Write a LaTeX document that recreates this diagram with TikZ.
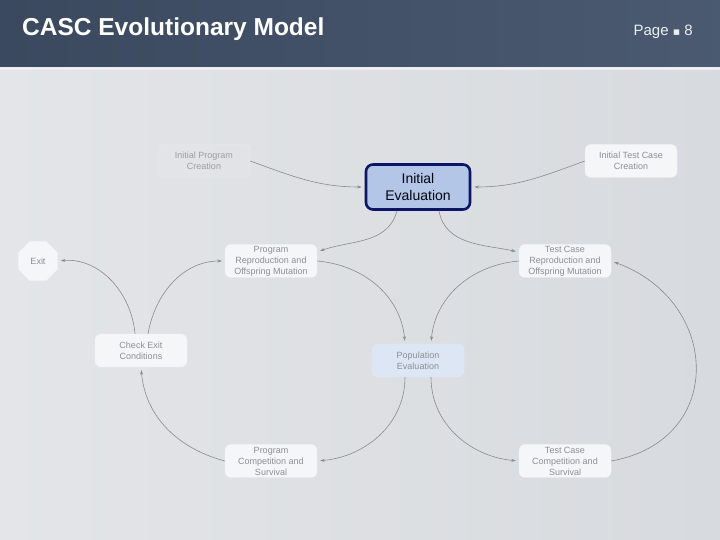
\documentclass[tikz,border=0pt]{standalone}
\usepackage{fontspec}
\setmainfont{Liberation Sans}
\newfontfamily\symfont{DejaVu Sans}
\usepackage{tikz}
\usetikzlibrary{shapes.geometric,arrows.meta}
\usepackage{xcolor}
\definecolor{headbg}{HTML}{415169}
\definecolor{bodybg}{HTML}{D7DADE}
\definecolor{boxtxt}{HTML}{8C8F94}
\definecolor{flowline}{HTML}{878A8F}
\definecolor{evalfill}{HTML}{B3C6E7}
\definecolor{evaldraw}{HTML}{0C1466}
\definecolor{popfill}{HTML}{DDE6F4}

\begin{document}
\begin{tikzpicture}[x=1pt,y=1pt,
        stage/.style={rectangle, rounded corners=6pt, draw=white!60!bodybg, fill=white!75!bodybg,
            text=boxtxt, align=center, inner sep=0pt, minimum width=92pt, minimum height=33pt,
            font=\fontsize{9}{11}\selectfont},
        faint/.style={stage, draw=white!45!bodybg, fill=white, fill opacity=0.08, text opacity=1, text=black!28!bodybg},
        flow/.style={->, >={Stealth[length=4.5pt,width=3pt]}, draw=flowline, line width=0.6pt, shorten >=3pt},
        ]
        % background and title bar
        \useasboundingbox (0,0) rectangle (720,540);
        \shade[left color=white!30!bodybg, right color=bodybg] (0,0) rectangle (720,470);
        \fill[white!55!bodybg] (0,470) rectangle (720,473);
        \shade[left color=headbg!90!black, right color=headbg!95!white] (0,473) rectangle (720,540);
        \node (title) at (22,510.5) [anchor=west, inner sep=0pt, text=white, font=\fontsize{24.5}{28}\selectfont\bfseries] {CASC Evolutionary Model};
        \node (page) at (693,508) [anchor=east, inner sep=0pt, text=white!90!headbg, font=\fontsize{15}{18}\selectfont] {Page {\symfont\fontsize{11}{11}\selectfont ▪} 8};

        \node (progInit) at (204,379) [faint] {Initial Program\\Creation};
        \node (testInit) at (631,379) [stage] {Initial Test Case\\Creation};
        \node (initEval) at (418,353) [rectangle, rounded corners=7pt, draw=evaldraw, line width=2.6pt,
            fill=evalfill, text=black!85!evaldraw, align=center, minimum width=104pt, minimum height=45pt,
            inner sep=0pt, font=\fontsize{14}{17}\selectfont] {Initial\\Evaluation};

        \node (exit) at (38,279) [regular polygon, regular polygon sides=8, minimum size=42.5pt, inner sep=0pt,
            draw=white!60!bodybg, fill=white!75!bodybg, text=boxtxt, font=\fontsize{9}{11}\selectfont] {Exit};
        \node (progRepro) at (271,279) [stage] {Program\\Reproduction and\\Offspring Mutation};
        \node (testRepro) at (565,279) [stage] {Test Case\\Reproduction and\\Offspring Mutation};
        \node (check) at (141,189.5) [stage] {Check Exit\\Conditions};
        \node (popEval) at (418,179.5) [stage, fill=popfill, draw=popfill!80!white] {Population\\Evaluation};
        \node (progComp) at (271,79) [stage] {Program\\Competition and\\Survival};
        \node (testComp) at (565,79) [stage] {Test Case\\Competition and\\Survival};

        \draw[flow] (progInit.east) to[out=-20,in=180] (initEval.west);
        \draw[flow] (testInit.west) to[out=200,in=0] (initEval.east);
        \draw[flow] ([xshift=-21pt]initEval.south) to[out=-105,in=20] ([yshift=9pt]progRepro.east);
        \draw[flow] ([xshift=21pt]initEval.south) to[out=-80,in=168] ([yshift=9pt]testRepro.west);
        \draw[flow] (progRepro.east) to[out=-5,in=95] ([xshift=-13pt]popEval.north);
        \draw[flow] (testRepro.west) to[out=185,in=85] ([xshift=13pt]popEval.north);
        \draw[flow] ([xshift=-13pt]popEval.south) to[out=-90,in=5] (progComp.east);
        \draw[flow] ([xshift=13pt]popEval.south) to[out=-90,in=175] (testComp.west);
        \draw[flow] (testComp.east) to[out=10,in=-20,looseness=1.5] (testRepro.east);
        \draw[flow] (progComp.west) to[out=165,in=-85] (check.south);
        \draw[flow] ([xshift=-6pt]check.north) to[out=95,in=5] (exit.east);
        \draw[flow] ([xshift=7pt]check.north) to[out=80,in=180] (progRepro.west);
    \end{tikzpicture}
\end{document}
